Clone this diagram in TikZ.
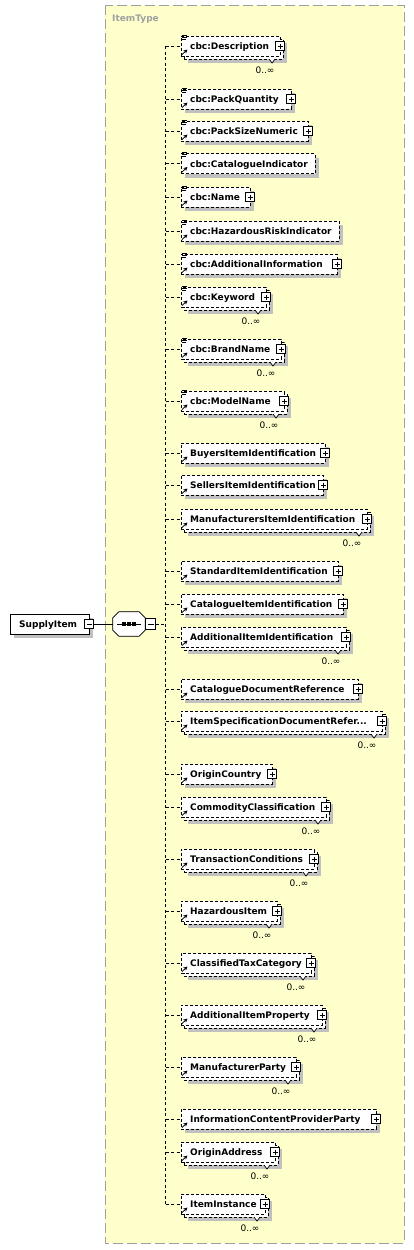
\documentclass[tikz,border=0pt]{standalone}
\usepackage{fontspec}
\setmainfont{DejaVu Sans}
\usetikzlibrary{positioning,shadows,arrows.meta,calc}
\definecolor{typebg}{HTML}{FFFFCC}
\definecolor{typeframe}{HTML}{A0A0A0}
\definecolor{shade}{HTML}{C0C0C0}
\newcommand\elide{.\kern0pt.\kern0pt.}

\tikzset{
  shadowed/.style={drop shadow={shadow xshift=4pt,shadow yshift=-4pt,fill=shade,opacity=1}},
  elem/.style={draw,fill=white,anchor=west,minimum height=20pt,inner sep=0pt,
    line width=0.8pt,dash pattern=on 3pt off 2pt},
  elemname/.style={anchor=base west,inner sep=0pt,font=\bfseries\fontsize{9}{10}\selectfont},
  multlabel/.style={inner sep=0pt,font=\fontsize{9}{10}\selectfont},
  conn/.style={line width=0.8pt,dash pattern=on 3pt off 2.5pt},
  icon/.style={line width=0.8pt},
  expand/.style={draw,fill=white,minimum size=9pt,inner sep=0pt,line width=0.7pt,
    path picture={
      \draw ([xshift=2pt]path picture bounding box.west) -- ([xshift=-2pt]path picture bounding box.east);
      \draw ([yshift=-2pt]path picture bounding box.north) -- ([yshift=2pt]path picture bounding box.south);}},
  collapse/.style={draw,fill=white,minimum width=9pt,minimum height=9pt,inner sep=0pt,line width=0.7pt,
    path picture={
      \draw ([xshift=2pt]path picture bounding box.west) -- ([xshift=-2pt]path picture bounding box.east);}},
}

\begin{document}
\begin{tikzpicture}[x=1pt,y=-1pt]
  \useasboundingbox (0,0) rectangle (414,1250);

  % complex type frame
  \draw[typeframe,fill=typebg,line width=0.8pt,dash pattern=on 10pt off 4pt] (105,5) rectangle (404,1243);
  \node[anchor=base west,inner sep=0pt,text=typeframe,font=\bfseries\fontsize{9}{10}\selectfont] (itemtype) at (112,21.5) {ItemType};

  % root element
  \node[draw,fill=white,shadowed,anchor=west,minimum width=79pt,minimum height=20pt,inner sep=0pt,line width=0.8pt] (root) at (10,624) {};
  \node[elemname] (rootname) at (19,627.5) {SupplyItem};
  \node[collapse] (rootm) at (89,624) {};

  % sequence compositor
  \node[minimum width=32pt,minimum height=24pt,inner sep=0pt] (seq) at (129,624) {};
  \fill[shade,xshift=4pt,yshift=-4pt]
    ([xshift=6pt]seq.north west) -- ([xshift=-6pt]seq.north east) -- ([yshift=-6pt]seq.north east)
    -- ([yshift=6pt]seq.south east) -- ([xshift=-6pt]seq.south east) -- ([xshift=6pt]seq.south west)
    -- ([yshift=6pt]seq.south west) -- ([yshift=-6pt]seq.north west) -- cycle;
  \draw[fill=white,line width=0.8pt]
    ([xshift=6pt]seq.north west) -- ([xshift=-6pt]seq.north east) -- ([yshift=-6pt]seq.north east)
    -- ([yshift=6pt]seq.south east) -- ([xshift=-6pt]seq.south east) -- ([xshift=6pt]seq.south west)
    -- ([yshift=6pt]seq.south west) -- ([yshift=-6pt]seq.north west) -- cycle;
  \draw[line width=1pt] ([xshift=4pt]seq.west) -- ([xshift=-4pt]seq.east);
  \foreach \dx in {-5,0,5}
    \fill ([xshift=\dx pt]seq.center) +(-1.7,-1.7) rectangle +(1.7,1.7);
  \node[collapse,minimum width=10pt,minimum height=11pt,anchor=west] (seqm) at (seq.east) {};
  \draw[line width=0.8pt] (rootm.east) -- (seq.west);

  % spine
  \coordinate (spine) at (165.5,624);
  \coordinate (spinetop) at (165.5,46);
  \coordinate (spinebot) at (165.5,1204);
  \draw[conn] (seqm.east) -- (spine);
  \draw[conn] (spinetop) -- (spinebot);

  % child elements: y / right edge / name / cbc / expandable / unbounded
  \foreach \ey/\ex/\ename/\ecbc/\eplus/\emult [count=\i] in {
      46/280/cbc:Description/1/1/1,
      99/291/cbc:PackQuantity/1/1/0,
      131/308/cbc:PackSizeNumeric/1/1/0,
      163.5/315/cbc:CatalogueIndicator/1/0/0,
      197/250/cbc:Name/1/1/0,
      231/339/cbc:HazardousRiskIndicator/1/0/0,
      264/337/cbc:AdditionalInformation/1/1/0,
      297/266/cbc:Keyword/1/1/1,
      349/281/cbc:BrandName/1/1/1,
      401/284/cbc:ModelName/1/1/1,
      453/325/BuyersItemIdentification/0/1/0,
      485/323/SellersItemIdentification/0/1/0,
      519/367/ManufacturersItemIdentification/0/1/1,
      571/338/StandardItemIdentification/0/1/0,
      604/343/CatalogueItemIdentification/0/1/0,
      637/346/AdditionalItemIdentification/0/1/1,
      689/358/CatalogueDocumentReference/0/1/0,
      721/382/ItemSpecificationDocumentRefer\elide/0/1/1,
      774/272/OriginCountry/0/1/0,
      807/326/CommodityClassification/0/1/1,
      859/314/TransactionConditions/0/1/1,
      911/277/HazardousItem/0/1/1,
      963/311/ClassifiedTaxCategory/0/1/1,
      1015/322/AdditionalItemProperty/0/1/1,
      1067/296/ManufacturerParty/0/1/1,
      1119/376/InformationContentProviderParty/0/1/0,
      1152/275/OriginAddress/0/1/1,
      1204/265/ItemInstance/0/1/1} {
    \ifnum\emult=1
      \node[elem,shadowed,minimum width={(\ex-181)*1pt}] (b\i) at (184,\ey+3) {};
      \filldraw[fill=white,line width=0.7pt] (\ex-11,\ey+13) -- (\ex-8,\ey+17) -- (\ex-5,\ey+13);
      \node[multlabel] (m\i) at (\ex-15,\ey+24) {0..∞};
      \node[elem,minimum width={(\ex-181)*1pt}] (e\i) at (181,\ey) {};
    \else
      \node[elem,shadowed,minimum width={(\ex-181)*1pt}] (e\i) at (181,\ey) {};
    \fi
    \draw[conn] (spine |- e\i.west) -- (e\i.west);
    \node[elemname] (n\i) at (190,\ey+3.5) {\ename};
    \ifnum\ecbc=1
      \draw[icon] (181.5,\ey-11) -- (186.5,\ey-11);
      \draw[icon] (181.5,\ey-9) -- (186.5,\ey-9);
      \draw[icon] (181.5,\ey-7) -- (185.5,\ey-7);
    \fi
    \draw[icon,-{Stealth[length=4pt,width=4pt]}] (182,\ey+8.5) -- (187.5,\ey+3.5);
    \ifnum\eplus=1
      \node[expand] (x\i) at (\ex,\ey) {};
    \fi
  }
\end{tikzpicture}
\end{document}
